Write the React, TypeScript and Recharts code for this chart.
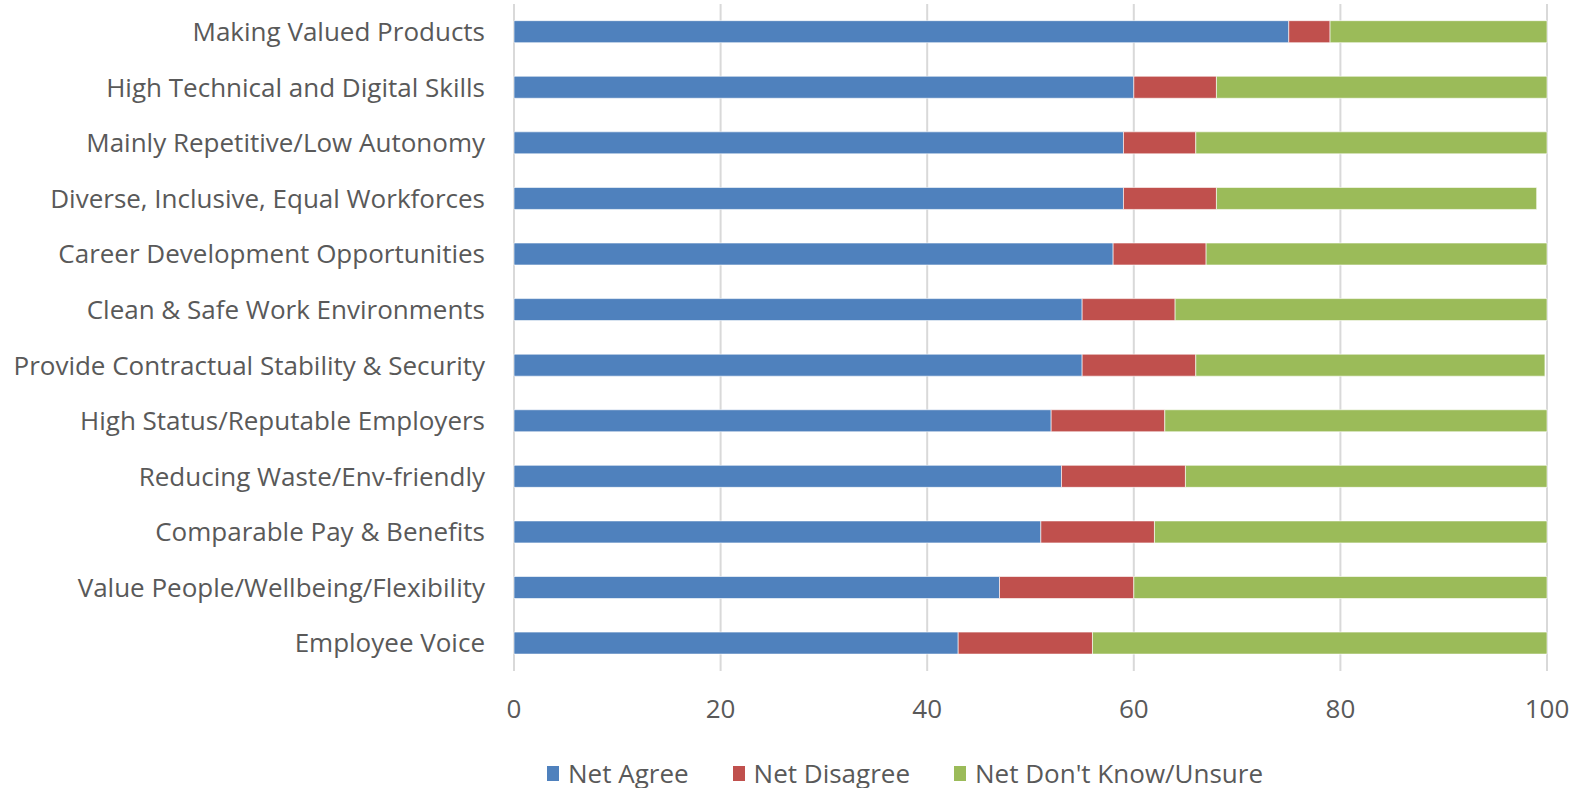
import { BarChart, Bar, XAxis, YAxis, CartesianGrid, Legend } from 'recharts'

const categories = [
  'Making Valued Products',
  'High Technical and Digital Skills',
  'Mainly Repetitive/Low Autonomy',
  'Diverse, Inclusive, Equal Workforces',
  'Career Development Opportunities',
  'Clean & Safe Work Environments',
  'Provide Contractual Stability & Security',
  'High Status/Reputable Employers',
  'Reducing Waste/Env-friendly',
  'Comparable Pay & Benefits',
  'Value People/Wellbeing/Flexibility',
  'Employee Voice',
]

const netAgree = [75, 60, 59, 59, 58, 55, 55, 52, 53, 51, 47, 43]
const netDisagree = [4, 8, 7, 9, 9, 9, 11, 11, 12, 11, 13, 13]
const netUnsure = [21, 32, 34, 31, 33, 36, 33.8, 37, 35, 38, 40, 44]

const xTicks = [0, 20, 40, 60, 80, 100]

const series = [
  { key: 'agree', name: 'Net Agree', color: '#4F81BD' },
  { key: 'disagree', name: 'Net Disagree', color: '#C0504D' },
  { key: 'unsure', name: "Net Don't Know/Unsure", color: '#9BBB59' },
]

const chartData = categories.map((name, i) => ({
  name,
  agree: netAgree[i],
  disagree: netDisagree[i],
  unsure: netUnsure[i],
}))

const FONT = '"Open Sans", sans-serif'
const TEXT = '#595959'

const renderLegend = () => (
  <div
    style={{
      display: 'flex',
      alignItems: 'center',
      height: 28,
      lineHeight: '28px',
      fontFamily: FONT,
      fontSize: 26,
      color: TEXT,
    }}
  >
    {series.map(s => (
      <div key={s.key} style={{ display: 'flex', alignItems: 'center', marginRight: 44 }}>
        <span style={{ display: 'inline-block', width: 12, height: 15, background: s.color, marginRight: 9 }} />
        <span style={{ whiteSpace: 'nowrap' }}>{s.name}</span>
      </div>
    ))}
  </div>
)

export default function App() {
  return (
    <div style={{ position: 'absolute', left: 0, top: 0, background: '#fff' }}>
      <BarChart
        width={1584}
        height={788}
        data={chartData}
        layout="vertical"
        margin={{ top: 4, right: 37, left: 0, bottom: 29 }}
        barCategoryGap="30%"
      >
        <CartesianGrid horizontal={false} stroke="#D9D9D9" strokeWidth={2} />
        <XAxis
          type="number"
          domain={[0, 100]}
          ticks={xTicks}
          axisLine={false}
          tickLine={false}
          tickSize={0}
          tickMargin={29}
          height={60}
          tick={{ fill: TEXT, fontSize: 26, fontFamily: FONT }}
        />
        <YAxis
          type="category"
          dataKey="name"
          width={514}
          axisLine={false}
          tickLine={false}
          tickSize={0}
          tickMargin={29}
          interval={0}
          tick={{ fill: TEXT, fontSize: 26, fontFamily: FONT }}
        />
        <Legend content={renderLegend} wrapperStyle={{ left: 547, top: 759, width: 'auto' }} />
        {series.map(s => (
          <Bar
            key={s.key}
            dataKey={s.key}
            name={s.name}
            stackId="a"
            fill={s.color}
            stroke="#ffffff"
            strokeOpacity={0.6}
            strokeWidth={1}
            isAnimationActive={false}
          />
        ))}
      </BarChart>
    </div>
  )
}
